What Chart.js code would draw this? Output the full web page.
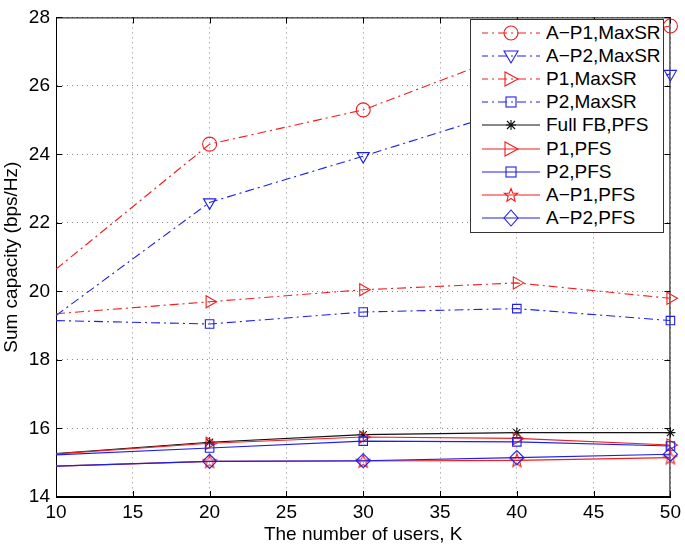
<!DOCTYPE html>
<html><head><meta charset="utf-8">
<script src="https://cdn.jsdelivr.net/npm/chart.js@4.4.0/dist/chart.umd.min.js"></script>
<style>
html,body{margin:0;padding:0;background:#fff;}
#wrap{position:relative;width:685px;height:546px;}
#legend{position:absolute;left:470px;top:19px;width:194px;height:214px;border:1px solid #333;background:#fff;font-family:"Liberation Sans",Arial,sans-serif;font-size:19px;box-sizing:border-box;color:#000;}
.row{position:absolute;left:0;height:23px;display:flex;align-items:center;white-space:nowrap;}
.row svg{margin-left:11px;}
.row span{margin-left:6px;}
</style></head>
<body>
<div id="wrap"><canvas id="c" width="685" height="546"></canvas><div id="legend"></div></div>
<script>
const users = [10, 20, 30, 40, 50];
const xTicks = [10, 15, 20, 25, 30, 35, 40, 45, 50];
const yTicks = [14, 16, 18, 20, 22, 24, 26, 28];
const seriesNames = ["A\u2212P1,MaxSR","A\u2212P2,MaxSR","P1,MaxSR","P2,MaxSR","Full FB,PFS","P1,PFS","P2,PFS","A\u2212P1,PFS","A\u2212P2,PFS"];
const ap1MaxSR = [20.65, 24.3, 25.3, 27.0, 27.75];
const ap2MaxSR = [19.3, 22.6, 23.95, 25.35, 26.35];
const p1MaxSR  = [19.35, 19.7, 20.05, 20.25, 19.8];
const p2MaxSR  = [19.15, 19.05, 19.4, 19.5, 19.15];
const fullPFS  = [15.27, 15.6, 15.82, 15.88, 15.88];
const p1PFS    = [15.26, 15.57, 15.75, 15.71, 15.52];
const p2PFS    = [15.23, 15.43, 15.63, 15.61, 15.49];
const ap1PFS   = [14.9, 15.04, 15.05, 15.07, 15.15];
const ap2PFS   = [14.9, 15.04, 15.06, 15.15, 15.25];

const RED = 'rgb(240,30,30)', BLUE = 'rgb(30,30,235)', BLACK = '#111';
const DASHDOT = [9,4,2,4];

function starImage(color){
  const c = document.createElement('canvas'); c.width = 16; c.height = 16;
  const g = c.getContext('2d'); g.strokeStyle = color; g.lineWidth = 1.1;
  g.beginPath();
  for (let i=0;i<10;i++){
    const r = i%2===0 ? 7 : 3;
    const a = -Math.PI/2 + i*Math.PI/5;
    const x = 8 + r*Math.cos(a), y = 8.5 + r*Math.sin(a);
    if(i===0) g.moveTo(x,y); else g.lineTo(x,y);
  }
  g.closePath(); g.stroke();
  return c;
}

const styles = [
  {data: ap1MaxSR, color: RED,  dash: DASHDOT, ps: 'circle', rot: 0, r: 7},
  {data: ap2MaxSR, color: BLUE, dash: DASHDOT, ps: 'triangle', rot: 180, r: 7},
  {data: p1MaxSR,  color: RED,  dash: DASHDOT, ps: 'triangle', rot: 90, r: 7},
  {data: p2MaxSR,  color: BLUE, dash: DASHDOT, ps: 'rect', rot: 0, r: 6},
  {data: fullPFS,  color: BLACK,dash: [], ps: 'star', rot: 0, r: 5},
  {data: p1PFS,    color: RED,  dash: [], ps: 'triangle', rot: 90, r: 7},
  {data: p2PFS,    color: BLUE, dash: [], ps: 'rect', rot: 0, r: 6},
  {data: ap1PFS,   color: RED,  dash: [], ps: starImage(RED), rot: 0, r: 7},
  {data: ap2PFS,   color: BLUE, dash: [], ps: 'rectRot', rot: 0, r: 7},
];

const datasets = styles.map((s,i)=>({
  label: seriesNames[i],
  data: s.data.map((v,j)=>({x: users[j], y: v})),
  borderColor: s.color, backgroundColor: 'rgba(0,0,0,0)',
  borderWidth: 1.1, borderDash: s.dash,
  pointStyle: s.ps, pointRotation: s.rot,
  pointRadius: users.map((u,j)=> j===0 ? 0 : s.r),
  pointBorderWidth: 1.1, pointBorderColor: s.color, pointBackgroundColor: 'rgba(0,0,0,0)',
  tension: 0, clip: false, order: 9 - i
}));

const boxPlugin = {
  id: 'box',
  beforeDatasetsDraw(chart){
    const {ctx, chartArea: a, scales} = chart;
    ctx.save();
    ctx.strokeStyle = '#000'; ctx.lineWidth = 1;
    ctx.strokeRect(a.left+0.5, a.top+0.5, a.right-a.left-1, a.bottom-a.top-1);
    ctx.beginPath();
    xTicks.forEach(t=>{ const x = Math.round(scales.x.getPixelForValue(t))+0.5;
      ctx.moveTo(x,a.bottom); ctx.lineTo(x,a.bottom-6); ctx.moveTo(x,a.top); ctx.lineTo(x,a.top+6); });
    yTicks.forEach(t=>{ const y = Math.round(scales.y.getPixelForValue(t))+0.5;
      ctx.moveTo(a.left,y); ctx.lineTo(a.left+6,y); ctx.moveTo(a.right,y); ctx.lineTo(a.right-6,y); });
    ctx.stroke();
    ctx.restore();
  }
};

const FONT = {family: '"Liberation Sans", Arial, sans-serif', size: 19};
new Chart(document.getElementById('c'), {
  type: 'line',
  data: {datasets},
  plugins: [boxPlugin],
  options: {
    responsive: false, animation: false,
    layout: {padding: {top: 10, right: 11, left: 0, bottom: 0}},
    plugins: {legend: {display: false}, tooltip: {enabled: false}},
    scales: {
      x: {type: 'linear', min: 10, max: 50,
        afterBuildTicks: s => { s.ticks = xTicks.map(v=>({value: v})); },
        afterFit: s => { s.height = 49; },
        ticks: {color: '#000', font: FONT, padding: 4, maxRotation: 0},
        grid: {color: '#888', lineWidth: 1, drawTicks: false},
        border: {display: true, color: '#000', dash: [1,4]},
        title: {display: true, text: 'The number of users, K', color: '#000', font: FONT, padding: {top: 0, bottom: 0}}
      },
      y: {type: 'linear', min: 14, max: 28,
        afterBuildTicks: s => { s.ticks = yTicks.map(v=>({value: v})); },
        afterFit: s => { s.width = 56; },
        ticks: {color: '#000', font: FONT, padding: 6},
        grid: {color: '#888', lineWidth: 1, drawTicks: false},
        border: {display: true, color: '#000', dash: [1,4]},
        title: {display: true, text: 'Sum capacity (bps/Hz)', color: '#000', font: FONT, padding: {top: 0, bottom: 0}}
      }
    }
  }
});

// HTML legend
const legend = document.getElementById('legend');
function markerSVG(i, cx, cy){
  const s = styles[i], c = s.color;
  const common = `fill="none" stroke="${c}" stroke-width="1.1"`;
  if (i===0) return `<circle cx="${cx}" cy="${cy}" r="7" ${common}/>`;
  if (i===1) return `<polygon points="${cx-7},${cy-5} ${cx+7},${cy-5} ${cx},${cy+7}" ${common}/>`;
  if (i===2 || i===5) return `<polygon points="${cx-6},${cy-7} ${cx-6},${cy+7} ${cx+7},${cy}" ${common}/>`;
  if (i===3 || i===6) return `<rect x="${cx-5}" y="${cy-5}" width="10" height="10" ${common}/>`;
  if (i===4) return `<path d="M${cx-5},${cy} H${cx+5} M${cx},${cy-5} V${cy+5} M${cx-4},${cy-4} L${cx+4},${cy+4} M${cx-4},${cy+4} L${cx+4},${cy-4}" ${common}/>`;
  if (i===7){ let p=[]; for(let k=0;k<10;k++){const r=k%2===0?7:3;const a=-Math.PI/2+k*Math.PI/5;p.push((cx+r*Math.cos(a)).toFixed(1)+','+(cy+0.5+r*Math.sin(a)).toFixed(1));} return `<polygon points="${p.join(' ')}" ${common}/>`; }
  return `<polygon points="${cx},${cy-8} ${cx+7},${cy} ${cx},${cy+8} ${cx-7},${cy}" ${common}/>`;
}
seriesNames.forEach((name,i)=>{
  const s = styles[i];
  const row = document.createElement('div');
  row.className = 'row';
  row.style.top = (14 + i*23.1 - 11.5 - 1) + 'px';
  const dash = s.dash.length ? `stroke-dasharray="${s.dash.join(',')}" stroke-dashoffset="3"` : '';
  row.innerHTML = `<svg width="58" height="20" viewBox="0 0 58 20"><line x1="0" y1="10" x2="58" y2="10" stroke="${s.color}" stroke-width="1.1" ${dash}/>${markerSVG(i,29,10)}</svg><span>${name}</span>`;
  legend.appendChild(row);
});
</script>
</body></html>
